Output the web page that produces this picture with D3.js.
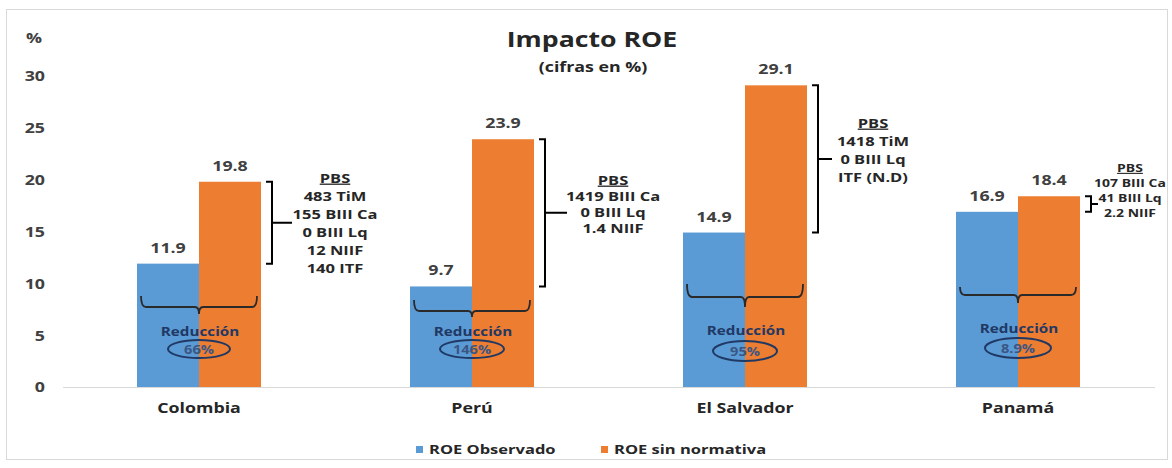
<!DOCTYPE html>
<html>
<head>
<meta charset="utf-8">
<script src="https://cdn.jsdelivr.net/npm/d3@7"></script>
<style>
  html, body { margin: 0; padding: 0; background: #fff; }
  svg { display: block; }
  text { font-family: 'Open Sans', sans-serif; font-weight: 700; }
</style>
</head>
<body>
<svg id="chart" width="1172" height="468"></svg>
<script>
// ---- data ----
const categories = ["Colombia", "Perú", "El Salvador", "Panamá"];
const seriesNames = ["ROE Observado", "ROE sin normativa"];
const roeObservado = [11.9, 9.7, 14.9, 16.9];
const roeSinNormativa = [19.8, 23.9, 29.1, 18.4];
const reduccion = ["66%", "146%", "95%", "8.9%"];
const pbsLines = [
  ["483 TiM", "155 BIII Ca", "0 BIII Lq", "12 NIIF", "140 ITF"],
  ["1419 BIII Ca", "0 BIII Lq", "1.4 NIIF"],
  ["1418 TiM", "0 BIII Lq", "ITF (N.D)"],
  ["107 BIII Ca", "41 BIII Lq", "2.2 NIIF"]
];
const yTicks = [0, 5, 10, 15, 20, 25, 30];

// ---- annotation layout (per country) ----
const pbsLayout = [
  { cx: 335, top: 178, step: 18, size: 13, tick: 20 },
  { cx: 613, top: 180, step: 16, size: 13, tick: 22 },
  { cx: 873, top: 123, step: 18, size: 13, tick: 14 },
  { cx: 1130, top: 168, step: 15, size: 11, tick: 7 }
];
const braceLayout = [
  { top: 296, bottom: 307, tip: 314, label: 332, ell: 349, rx: 31, ry: 9 },
  { top: 300, bottom: 311, tip: 317, label: 332, ell: 349, rx: 32, ry: 9 },
  { top: 284, bottom: 297, tip: 307, label: 331, ell: 351, rx: 32, ry: 10 },
  { top: 287, bottom: 295, tip: 303, label: 329, ell: 348, rx: 33, ry: 10 }
];

const SX = 1.27;             // horizontal stretch applied to all lettering
const BLUE = "#5B9BD5", ORANGE = "#ED7D31";
const colors = [BLUE, ORANGE];
const INK = "#262626", NAVY = "#1F3864";

const svg = d3.select("#chart");

// frame
svg.append("rect").attr("x", 6.5).attr("y", 9.5).attr("width", 1161).attr("height", 450)
  .attr("fill", "#fff").attr("stroke", "#d9d9d9").attr("stroke-width", 1);

// stretched text helper
function txt(g, x, y, s, size, fill, anchor = "middle") {
  return g.append("text")
    .attr("transform", `translate(${x},${y}) scale(${SX},1)`)
    .attr("text-anchor", anchor)
    .attr("font-size", size)
    .attr("fill", fill)
    .text(s);
}

// scales
const x0 = d3.scaleBand().domain(categories).range([62.5, 1154.5])
  .paddingInner(0.5458).paddingOuter(0.2729);
const x1 = d3.scaleBand().domain(seriesNames).range([0, x0.bandwidth()]);
const y = d3.scaleLinear().domain([0, 30]).range([387, 76]);

// title
txt(svg, 592, 47, "Impacto ROE", 21, INK);
txt(svg, 593, 72, "(cifras en %)", 14, INK);

// y axis
const yAxis = svg.append("g").attr("transform", "translate(45,0)")
  .call(d3.axisLeft(y).tickValues(yTicks).tickSize(0).tickPadding(0));
yAxis.select(".domain").remove();
yAxis.selectAll("text")
  .attr("x", 0).attr("dy", "0.35em")
  .attr("transform", `scale(${SX},1)`)
  .attr("font-family", "'Open Sans', sans-serif")
  .attr("font-weight", 700).attr("font-size", 14).attr("fill", "#404040");
txt(svg, 34, 43, "%", 14, "#404040");

// bars
const groups = svg.append("g").selectAll("g").data(categories).join("g")
  .attr("transform", d => `translate(${x0(d)},0)`);
const seriesVals = [roeObservado, roeSinNormativa];
groups.each(function (c, i) {
  const g = d3.select(this);
  seriesNames.forEach((s, j) => {
    const v = seriesVals[j][i];
    g.append("rect")
      .attr("x", x1(s)).attr("y", y(v))
      .attr("width", x1.bandwidth()).attr("height", y(0) - y(v))
      .attr("fill", colors[j]);
    txt(g, x1(s) + x1.bandwidth() / 2, y(v) - 11, d3.format(".1f")(v), 14, "#404040");
  });
});

// x axis
const xAxis = svg.append("g").attr("transform", `translate(0,${y(0)})`)
  .call(d3.axisBottom(x0).tickSize(0).tickPadding(0));
xAxis.select(".domain").attr("stroke", "#d9d9d9").attr("stroke-width", 1);
xAxis.selectAll("text")
  .attr("y", 26).attr("dy", 0)
  .attr("transform", `scale(${SX},1)`)
  .attr("font-family", "'Open Sans', sans-serif")
  .attr("font-weight", 700).attr("font-size", 14).attr("fill", INK);

// annotations
const ann = svg.append("g");
categories.forEach((c, i) => {
  const left = x0(c);
  const mid = x0(c) + x0.bandwidth() / 2;
  const right = x0(c) + x0.bandwidth();
  const yTop = y(roeSinNormativa[i]);
  const yBot = y(roeObservado[i]);
  const p = pbsLayout[i];

  // right-hand bracket spanning the gap between both bars
  const bx = right + 11;
  ann.append("path")
    .attr("d", `M${right + 5},${yTop} H${bx} V${yBot} H${right + 5} M${bx},${(yTop + yBot) / 2} H${bx + p.tick}`)
    .attr("fill", "none").attr("stroke", "#000").attr("stroke-width", 2);

  // PBS block
  const pbs = txt(ann, p.cx, p.top + p.size * 0.36, "PBS", p.size, INK);
  pbs.attr("text-decoration", "underline");
  pbsLines[i].forEach((line, k) => {
    txt(ann, p.cx, p.top + (k + 1) * p.step + p.size * 0.36, line, p.size, INK);
  });

  // brace under both bars
  const b = braceLayout[i];
  const l = left + 4, r = right - 4;
  ann.append("path")
    .attr("d", `M${l},${b.top} Q${l},${b.bottom} ${l + 5},${b.bottom} H${mid - 4} Q${mid},${b.bottom} ${mid},${b.tip}` +
               ` Q${mid},${b.bottom} ${mid + 4},${b.bottom} H${r - 5} Q${r},${b.bottom} ${r},${b.top}`)
    .attr("fill", "none").attr("stroke", "#2a2a2a").attr("stroke-width", 1.8);

  txt(ann, mid + 1, b.label + 4, "Reducción", 12, NAVY);
  txt(ann, mid, b.ell + 4.5, reduccion[i], 11.5, "#3a5685");
  ann.append("ellipse")
    .attr("cx", mid).attr("cy", b.ell).attr("rx", b.rx).attr("ry", b.ry)
    .attr("fill", "none").attr("stroke", NAVY).attr("stroke-width", 2);
});

// legend
const legend = svg.append("g");
const legendItems = [
  { name: seriesNames[0], color: BLUE, x: 416 },
  { name: seriesNames[1], color: ORANGE, x: 601 }
];
legendItems.forEach(it => {
  legend.append("rect").attr("x", it.x).attr("y", 446).attr("width", 7).attr("height", 7).attr("fill", it.color);
  txt(legend, it.x + 13, 454, it.name, 13, INK, "start");
});
</script>
</body>
</html>
